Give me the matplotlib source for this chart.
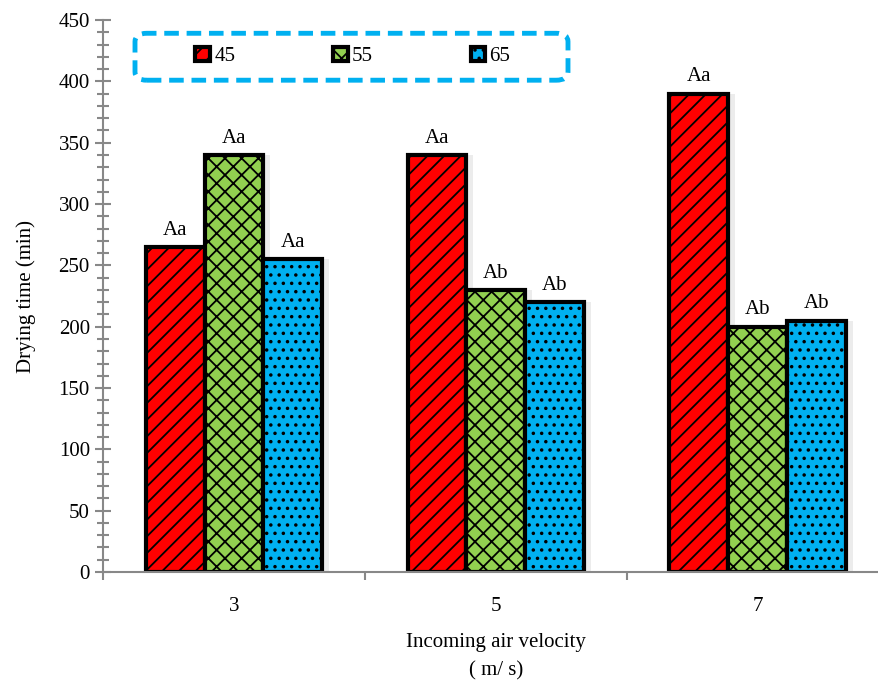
import matplotlib.pyplot as plt
import numpy as np
from matplotlib.ticker import MultipleLocator
from matplotlib.patches import FancyBboxPatch

plt.rcParams['font.family'] = ['Liberation Serif', 'DejaVu Serif']
plt.rcParams['hatch.linewidth'] = 1.3
plt.rcParams['hatch.color'] = 'black'

velocities = ['3', '5', '7']
temps = ['45', '55', '65']
t45 = [265, 340, 390]
t55 = [340, 230, 200]
t65 = [255, 220, 205]
lab45 = ['Aa', 'Aa', 'Aa']
lab55 = ['Aa', 'Ab', 'Ab']
lab65 = ['Aa', 'Ab', 'Ab']

series = [t45, t55, t65]
labels = [lab45, lab55, lab65]
colors = ['#ff0000', '#92d050', '#00b0f0']
hatches = ['//', 'xx', '..']

fig = plt.figure(figsize=(8.79, 6.84), dpi=100)
ax = fig.add_axes([0.1172, 0.1637, 0.894, 0.807])

x = np.arange(len(velocities))
w = 0.225
for i, (vals, c, h, lb) in enumerate(zip(series, colors, hatches, labels)):
    pos = x + (i - 1) * w
    # soft shadow
    ax.bar(pos + 0.025, vals, w, color='#ececec', zorder=1)
    ax.bar(pos, vals, w, color=c, edgecolor='black', linewidth=3,
           hatch=h, label=temps[i], zorder=2)
    for p, v, s in zip(pos, vals, lb):
        ax.text(p, v + 6, s, ha='center', va='bottom', fontsize=15, zorder=3)

ax.set_xlim(-0.5, 2.5)
ax.set_ylim(0, 450)
ax.set_xticks(x)
ax.set_xticklabels(velocities, fontsize=15)
ax.set_xticks([-0.5, 0.5, 1.5, 2.5], minor=True)
ax.tick_params(axis='x', which='major', length=0, pad=18)
ax.tick_params(axis='x', which='minor', length=6, color='#888888', width=1.5)
ax.yaxis.set_major_locator(MultipleLocator(50))
ax.yaxis.set_minor_locator(MultipleLocator(10))
ax.tick_params(axis='y', which='major', direction='inout', length=12,
               color='#888888', width=1.5, labelsize=15)
ax.tick_params(axis='y', which='minor', direction='inout', length=8,
               color='#888888', width=1.5)
for s in ['top', 'right']:
    ax.spines[s].set_visible(False)
for s in ['left', 'bottom']:
    ax.spines[s].set_color('#888888')
    ax.spines[s].set_linewidth(1.5)

ax.set_ylabel('Drying time (min)', fontsize=15, labelpad=16)
ax.set_xlabel('Incoming air velocity\n( m/ s)', fontsize=15, labelpad=12,
              linespacing=1.65)

# dashed legend frame
frame = FancyBboxPatch((0.0407, 0.891), 0.551, 0.085,
                       boxstyle='round,pad=0,rounding_size=0.015',
                       transform=ax.transAxes, facecolor='white',
                       edgecolor='#00b0f0', linewidth=3.5,
                       linestyle=(0, (3, 1.6)), zorder=4, clip_on=False)
ax.add_patch(frame)

leg = ax.legend(loc='center', bbox_to_anchor=(0.318, 0.934), ncol=3,
                fontsize=15, frameon=False, handlelength=0.7,
                handleheight=0.7, handletextpad=0.2, columnspacing=4.7,
                borderpad=0, borderaxespad=0)
leg.set_zorder(5)

fig.savefig('out.png', dpi=100, facecolor='white')
